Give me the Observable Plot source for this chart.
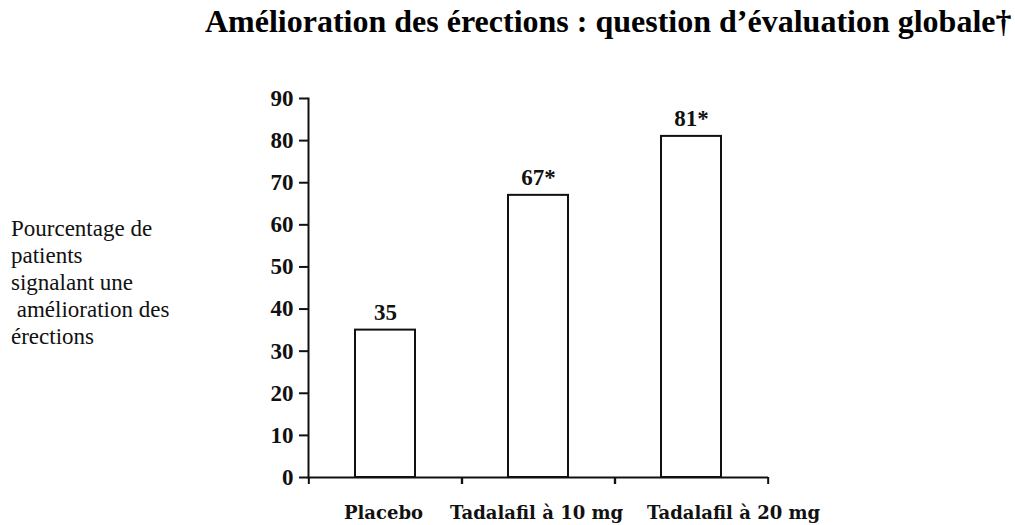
<!DOCTYPE html>
<html>
<head>
<meta charset="utf-8">
<script src="https://cdn.jsdelivr.net/npm/d3@7"></script>
<script src="https://cdn.jsdelivr.net/npm/@observablehq/plot@0.6"></script>
<style>
  html, body { margin: 0; padding: 0; background: #fff; }
  #wrap { position: relative; width: 1015px; height: 525px; overflow: hidden; background: #fff; }
  #title { position: absolute; z-index: 2; left: 205px; top: 5px; font-family: "Liberation Serif", "Times New Roman", serif; font-weight: bold; font-size: 32px; line-height: 32px; white-space: nowrap; color: #000; }
  #ylabel { position: absolute; z-index: 2; left: 11px; top: 215px; font-family: "Liberation Serif", "Times New Roman", serif; font-size: 23px; line-height: 27px; white-space: pre; color: #111; }
  #chart { position: absolute; z-index: 1; left: 0; top: 70px; }
</style>
</head>
<body>
<div id="wrap">
  <div id="chart"></div>
  <div id="title"></div>
  <div id="ylabel"></div>
</div>
<script>
const titleText = "Amélioration des érections : question d’évaluation globale†";
const yLabelLines = ["Pourcentage de", "patients", "signalant une", " amélioration des", "érections"];
const categories = ["Placebo", "Tadalafil à 10 mg", "Tadalafil à 20 mg"];
const values = [35, 67, 81];
const valueLabels = ["35", "67*", "81*"];
const yTicks = [0, 10, 20, 30, 40, 50, 60, 70, 80, 90];

document.getElementById("title").textContent = titleText;
document.getElementById("ylabel").textContent = yLabelLines.join("\n");

const data = categories.map((c, i) => ({cat: c, value: values[i], label: valueLabels[i]}));

const W = 1015, H = 455, ML = 308, MR = 247, MT = 28, MB = 48;
const step = (W - ML - MR) / categories.length;
const numFont = {fontFamily: "Liberation Serif, Times New Roman, serif", fontWeight: "bold", fontSize: 23};
const catFont = {fontFamily: "DejaVu Serif, serif", fontWeight: "bold", fontSize: 18};

const chart = Plot.plot({
  width: W, height: H,
  marginLeft: ML, marginRight: MR, marginTop: MT, marginBottom: MB,
  style: {background: "white", color: "#111", overflow: "visible"},
  x: {domain: categories, paddingInner: 0.61, paddingOuter: 0.305, axis: null},
  y: {domain: [0, 90], axis: null},
  marks: [
    Plot.barY(data, {x: "cat", y: "value", fill: "white", stroke: "#111", strokeWidth: 2}),
    Plot.frame({anchor: "left", stroke: "#111", strokeWidth: 2}),
    Plot.ruleY([0], {stroke: "#111", strokeWidth: 2}),
    Plot.axisY({ticks: yTicks, tickSize: 9, tickPadding: 6, strokeWidth: 2, stroke: "#111", label: null, ...numFont, fill: "#111"}),
    Plot.axisX({ticks: categories, tickSize: 7, tickFormat: () => "", dx: step / 2, strokeWidth: 2, stroke: "#111", label: null}),
    Plot.axisX({ticks: categories, tickSize: 7, tickFormat: () => "", dx: -step / 2, strokeWidth: 2, stroke: "#111", label: null}),
    Plot.text(data, {x: "cat", y: "value", text: "label", dy: -10, lineAnchor: "bottom", ...numFont, fill: "#111"}),
    Plot.text(categories.slice(0, 2), {x: d => d, frameAnchor: "bottom", dy: 41, dx: -2, lineAnchor: "bottom", ...catFont, fill: "#111"}),
    Plot.text(categories.slice(2), {x: d => d, frameAnchor: "bottom", dy: 41, dx: 42, lineAnchor: "bottom", ...catFont, fill: "#111"})
  ]
});
document.getElementById("chart").appendChild(chart);
</script>
</body>
</html>
